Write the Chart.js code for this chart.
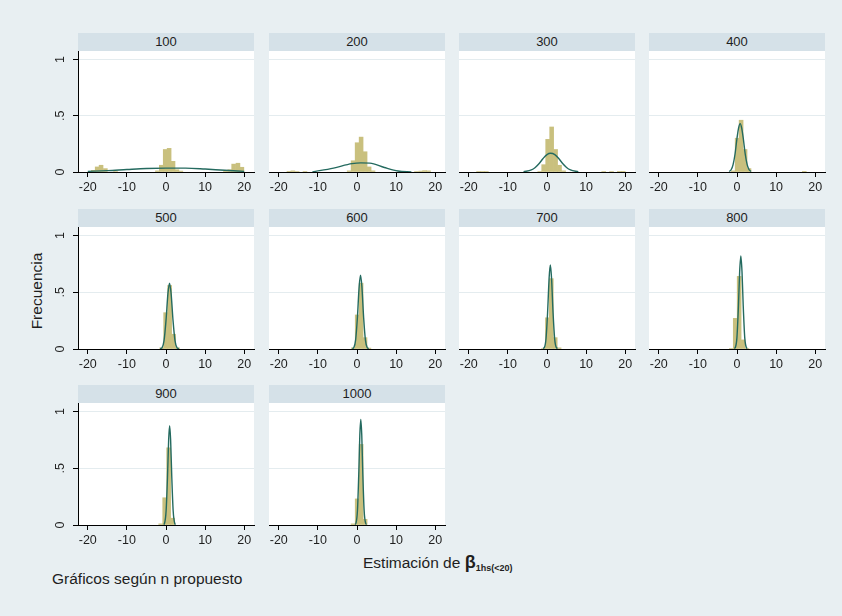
<!DOCTYPE html>
<html><head><meta charset="utf-8">
<script src="https://cdn.jsdelivr.net/npm/chart.js@4.4.1/dist/chart.umd.min.js"></script>
<style>
html,body{margin:0;padding:0;}
body{width:842px;height:616px;background:#e8eff2;position:relative;overflow:hidden;font-family:"Liberation Sans",Arial,sans-serif;color:#1e1e1e;}
.hdr{position:absolute;height:18px;line-height:18px;background:#d5e1e8;text-align:center;font-size:13px;}
canvas{position:absolute;}
.ytitle{position:absolute;left:-23px;top:281px;width:120px;height:20px;line-height:20px;text-align:center;font-size:15.5px;transform:rotate(-90deg);}
.xtitle{position:absolute;left:363px;top:553px;font-size:15.5px;white-space:nowrap;line-height:18px;}
.xtitle b{font-size:18px;}
.xtitle sub{font-size:9px;font-weight:bold;vertical-align:-3px;}
.note{position:absolute;left:52px;top:570px;font-size:15.5px;line-height:18px;white-space:nowrap;}
</style></head><body>
<div class="ytitle">Frecuencia</div>
<div class="xtitle">Estimación de <b>β</b><sub>1hs(&lt;20)</sub></div>
<div class="note">Gráficos según n propuesto</div>
<script>
// ---- data ----
const panelLabels = ['100','200','300','400','500','600','700','800','900','1000'];
const xTicks = [-20,-10,0,10,20];
const yTicks = [0,0.5,1];
const yTickLabels = ['0','.5','1'];

// histogram bin centres per panel
const binX = [
 [-18.6,-17.6,-16.6,-15.5,-12.9,-2.2,-1.2,-0.2,0.8,1.8,2.8,3.8,15.2,16.3,17.3,18.4,19.4],
 [-17.4,-16.4,-15.3,-13.3,-2.0,-1.0,0.03,1.05,2.07,3.1,4.1,15.2,16.3,17.3,18.3],
 [-17.5,-16.5,-15.5,-1.85,-0.85,0.17,1.19,2.2,3.2,4.25,14.5,16.5,18.5,19.5],
 [-1.0,0.04,1.05,2.06,3.07,17.2],
 [-1.1,-0.09,0.93,1.95,2.97],
 [-0.95,0.05,1.05,2.05,3.05],
 [-0.9,0.1,1.1,2.1,3.1],
 [-1.45,-0.45,0.55,1.55,2.55],
 [-1.35,-0.33,0.68,1.7],
 [-1.0,0.05,1.06,2.07]
];
// histogram densities per panel
const binFreq = [
 [.015,.045,.06,.03,.005,.01,.06,.20,.21,.095,.02,.008,.01,.02,.07,.078,.042],
 [.006,.01,.005,.005,.01,.10,.26,.31,.18,.045,.01,.004,.008,.012,.01],
 [.005,.005,.005,.005,.065,.29,.40,.20,.06,.01,.005,.005,.006,.006],
 [.01,.30,.46,.20,.03,.006],
 [.01,.32,.56,.13,.01],
 [.01,.30,.58,.10,.008],
 [.005,.275,.62,.10,.01],
 [.005,.27,.64,.08,.005],
 [.01,.24,.68,.06],
 [.01,.23,.71,.05]
];
// normal density overlay
const curveX = [
 [-20,-15,-10,-5,0,5,10,15,20],
 [-11.4,-6,-1.3,1,3.3,7,10.5,13.9],
 [-6,-4,-3,-2,-1,0,0.9,2,3,4,5,6,8],
 [-2.0,-1.5,-1.0,-0.5,0,0.4,0.8,1.2,1.6,2.1,2.6,3.1,3.6],
 [-1.5,-1,-0.5,0,0.5,0.9,1.3,1.8,2.3,2.8,3.3],
 [-1.2,-0.8,-0.35,0.1,0.55,0.9,1.25,1.7,2.15,2.6,3.0],
 [-1.0,-0.65,-0.25,0.15,0.55,0.85,1.15,1.55,1.95,2.35,2.7],
 [-0.7,-0.42,-0.02,0.38,0.68,0.98,1.28,1.58,1.98,2.38,2.66],
 [-0.6,-0.37,0.03,0.38,0.68,0.93,1.18,1.48,1.83,2.23,2.46],
 [-0.5,-0.28,0.12,0.47,0.72,0.97,1.22,1.47,1.82,2.22,2.44]
];
const curveY = [
 [.006,.012,.022,.031,.034,.034,.026,.015,.006],
 [.001,.035,.074,.081,.079,.04,.009,.001],
 [.003,.018,.04,.075,.12,.155,.166,.155,.12,.075,.04,.018,.002],
 [.005,.02,.066,.16,.30,.39,.43,.39,.30,.16,.066,.02,.005],
 [.003,.013,.074,.25,.49,.58,.49,.25,.074,.013,.003],
 [.004,.013,.08,.275,.55,.65,.55,.275,.08,.013,.004],
 [.005,.015,.093,.32,.63,.74,.63,.32,.093,.015,.005],
 [.005,.014,.10,.39,.68,.82,.68,.39,.10,.014,.005],
 [.005,.015,.125,.42,.75,.875,.75,.42,.125,.015,.005],
 [.005,.014,.13,.47,.79,.93,.79,.47,.13,.014,.005]
];

// ---- layout ----
const colLeft = [78, 269, 459, 649];
const plotW = 176;
const hdrTop = [33, 209, 385];
const hdrH = 18;
const plotBottom = [172, 349, 525];
const PADL = 50, PADT = 10, PADR = 12, XAXH = 32;
const FONT = '"Liberation Sans", Arial, sans-serif';

const whiteBg = {
  id: 'whiteBg',
  beforeDraw(chart) {
    const a = chart.chartArea, c = chart.ctx;
    c.save(); c.fillStyle = '#ffffff';
    c.fillRect(a.left, a.top, a.right - a.left, a.bottom - a.top);
    c.restore();
  }
};
const yLabels = {
  id: 'yLabels',
  afterDraw(chart) {
    const c = chart.ctx, ys = chart.scales.y, a = chart.chartArea;
    c.save();
    c.fillStyle = '#1e1e1e';
    c.font = '12.5px ' + FONT;
    c.textAlign = 'center'; c.textBaseline = 'middle';
    yTicks.forEach((v, i) => {
      c.save();
      c.translate(a.left - 17, ys.getPixelForValue(v));
      c.rotate(-Math.PI / 2);
      c.fillText(yTickLabels[i], 0, 0);
      c.restore();
    });
    c.restore();
  }
};

panelLabels.forEach((lab, i) => {
  const col = i % 4, row = Math.floor(i / 4);
  const top = hdrTop[row] + hdrH;
  const plotH = plotBottom[row] - top;
  const h = document.createElement('div');
  h.className = 'hdr';
  h.style.left = colLeft[col] + 'px';
  h.style.top = hdrTop[row] + 'px';
  h.style.width = plotW + 'px';
  h.textContent = lab;
  document.body.appendChild(h);

  const cv = document.createElement('canvas');
  cv.width = plotW + PADL + PADR; cv.height = plotH + PADT + XAXH;
  cv.style.left = (colLeft[col] - PADL) + 'px';
  cv.style.top = (top - PADT) + 'px';
  cv.style.width = cv.width + 'px'; cv.style.height = cv.height + 'px';
  document.body.appendChild(cv);

  const bars = binX[i].map((x, k) => ({x: x, y: binFreq[i][k]}));
  const line = curveX[i].map((x, k) => ({x: x, y: curveY[i][k]}));

  new Chart(cv, {
    type: 'bar',
    data: { datasets: [
      { type: 'line', data: line, borderColor: '#246a5f', borderWidth: 1.4, pointRadius: 0,
        cubicInterpolationMode: 'monotone', fill: false, order: 0 },
      { type: 'bar', data: bars, backgroundColor: '#c9c07e', borderWidth: 0,
        barPercentage: 1, categoryPercentage: 1, order: 1 }
    ]},
    options: {
      animation: false, responsive: false, devicePixelRatio: 1,
      layout: { padding: { top: PADT, right: PADR, left: 0, bottom: 0 } },
      plugins: { legend: { display: false }, tooltip: { enabled: false } },
      scales: {
        x: {
          type: 'linear', min: -22.5, max: 22.5, offset: false,
          afterBuildTicks: s => { s.ticks = xTicks.map(v => ({ value: v })); },
          afterFit: s => { s.height = XAXH; },
          grid: { offset: false, drawOnChartArea: false, drawTicks: true, tickLength: 5, tickColor: '#000', tickWidth: 1 },
          border: { display: true, color: '#000', width: 1 },
          ticks: { color: '#1e1e1e', font: { family: FONT, size: 12.5 }, padding: 3,
                   maxRotation: 0, minRotation: 0, autoSkip: false,
                   callback: v => String(v) }
        },
        y: {
          type: 'linear', min: 0, max: 1.075,
          afterBuildTicks: s => { s.ticks = yTicks.map(v => ({ value: v })); },
          afterFit: s => { s.width = PADL; },
          grid: { color: ctx => (ctx.tick && ctx.tick.value === 0) ? 'rgba(0,0,0,0)' : '#e4ecef',
                  drawTicks: col === 0, tickLength: 5, tickColor: '#000', lineWidth: 1 },
          border: { display: col === 0, color: '#000', width: 1 },
          ticks: { display: false }
        }
      }
    },
    plugins: col === 0 ? [whiteBg, yLabels] : [whiteBg]
  });
});
</script>
</body></html>
